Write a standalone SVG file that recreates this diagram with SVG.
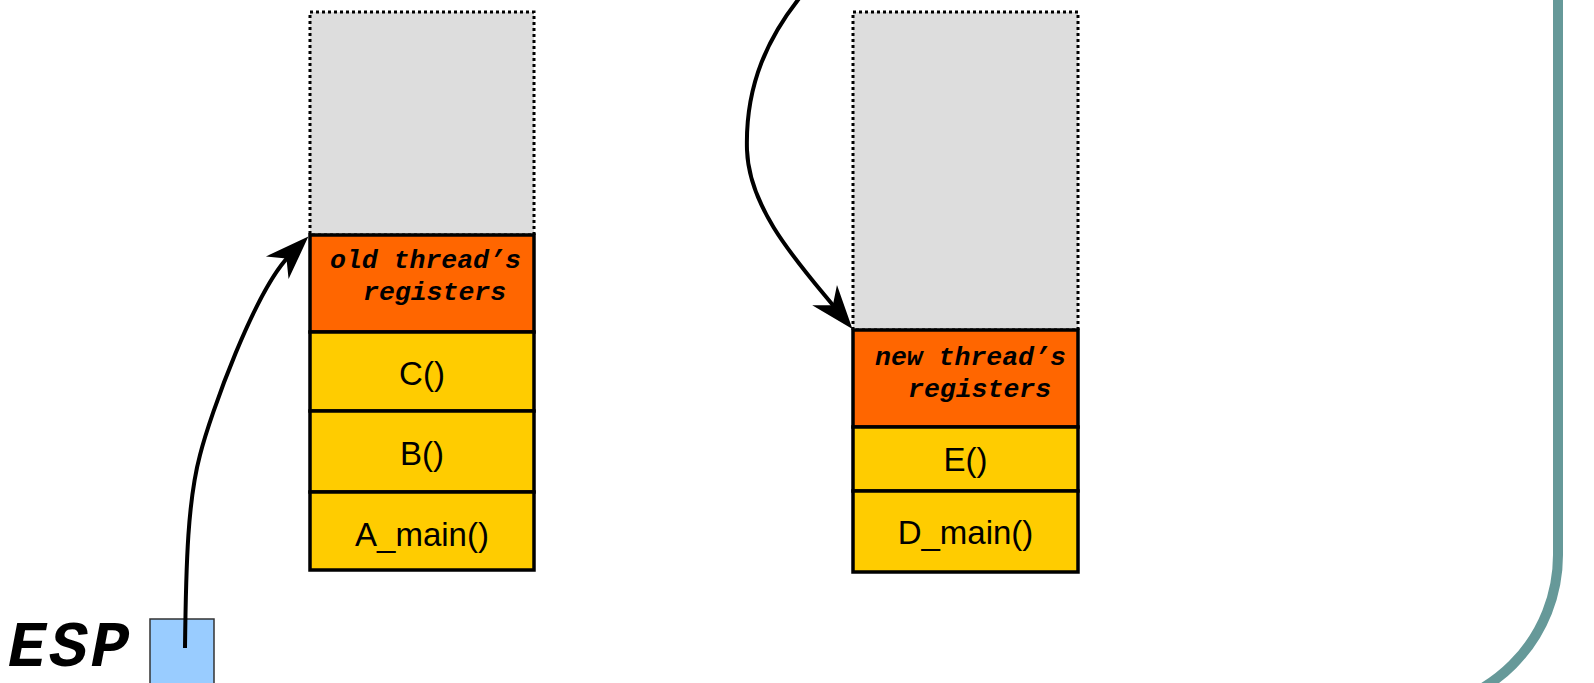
<svg xmlns="http://www.w3.org/2000/svg" width="1594" height="683" viewBox="0 0 1594 683">
  <style>
    .free { fill: #dddddd; stroke: #000; stroke-width: 3; stroke-dasharray: 3 3; }
    .regs { fill: #ff6600; stroke: #000; stroke-width: 3.5; }
    .frame { fill: #ffcc00; stroke: #000; stroke-width: 3.5; }
    .lbl { font-family: "Liberation Sans", Arial, sans-serif; font-size: 33px; fill: #000; text-anchor: middle; }
    .mono { font-family: "Liberation Mono", "Courier New", monospace; font-weight: bold; font-style: italic; fill: #000; }
    .link { fill: none; stroke: #000; stroke-width: 4; }
  </style>
  <defs>
    <marker id="head" markerUnits="userSpaceOnUse" orient="auto" viewBox="-20 -18 48 36" refX="0" refY="0" markerWidth="48" markerHeight="36">
      <path d="M26,0 L-18,-16 L-5,0 L-18,16 Z" fill="#000"/>
    </marker>
  </defs>

  <rect width="1594" height="683" fill="#ffffff"/>

  <!-- slide border, lower right corner -->
  <path d="M1558,-10 L1558,555 A155,155 0 0 1 1403,710" fill="none" stroke="#669999" stroke-width="10"/>

  <!-- old thread stack -->
  <g id="old-stack">
    <rect class="free" x="310" y="12" width="224" height="223"/>
    <g id="old-regs">
      <rect class="regs" x="310" y="235" width="224" height="97"/>
      <text class="mono" font-size="26.5" x="330" y="268">old thread’s</text>
      <text class="mono" font-size="26.5" x="363" y="300">registers</text>
    </g>
    <g id="frame-c">
      <rect class="frame" x="310" y="332" width="224" height="79"/>
      <text class="lbl" x="422" y="385">C()</text>
    </g>
    <g id="frame-b">
      <rect class="frame" x="310" y="411" width="224" height="81"/>
      <text class="lbl" x="422" y="465">B()</text>
    </g>
    <g id="frame-a-main">
      <rect class="frame" x="310" y="492" width="224" height="78"/>
      <text class="lbl" x="422" y="546">A_main()</text>
    </g>
  </g>

  <!-- new thread stack -->
  <g id="new-stack">
    <rect class="free" x="853" y="12" width="225" height="318"/>
    <g id="new-regs">
      <rect class="regs" x="853" y="330" width="225" height="97"/>
      <text class="mono" font-size="26.5" x="875" y="365">new thread’s</text>
      <text class="mono" font-size="26.5" x="908" y="397">registers</text>
    </g>
    <g id="frame-e">
      <rect class="frame" x="853" y="427" width="225" height="64"/>
      <text class="lbl" x="965.5" y="471">E()</text>
    </g>
    <g id="frame-d-main">
      <rect class="frame" x="853" y="491" width="225" height="81"/>
      <text class="lbl" x="965.5" y="544">D_main()</text>
    </g>
  </g>

  <!-- stack pointer register -->
  <g id="esp">
    <text class="mono" font-size="64" letter-spacing="3" x="8" y="666">ESP</text>
    <rect x="150" y="619" width="64" height="66" fill="#99ccff" stroke="#333333" stroke-width="1.5"/>
  </g>

  <!-- connectors -->
  <g id="connectors">
    <path class="link" d="M185,648 C186,560 188,500 200,455 C210,415 255,290 290,255" marker-end="url(#head)"/>
    <path class="link" d="M806,-10 C768,35 745,85 747,150 C749,210 800,265 836,309" marker-end="url(#head)"/>
  </g>
</svg>
